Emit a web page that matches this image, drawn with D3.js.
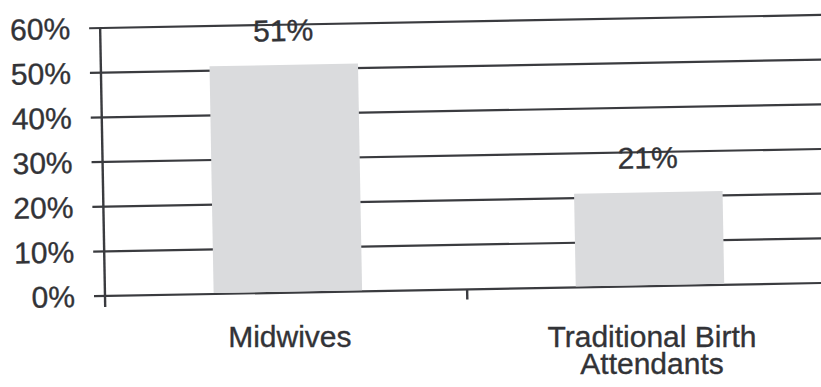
<!DOCTYPE html>
<html lang="en">
<head>
    <meta charset="utf-8">
    <title>Midwives vs Traditional Birth Attendants</title>
    <script src="https://d3js.org/d3.v7.min.js"></script>
    <style>
        body { margin: 0; background: #fff; }
        text { font-family: "Liberation Sans", Arial, sans-serif; fill: #323337; stroke: #323337; stroke-width: 0.35px; }
    </style>
</head>
<body>
<div id="chart"></div>
<script>

// Data
var categories = ["Midwives", "Traditional Birth Attendants"];
var labelLines = [["Midwives"], ["Traditional Birth", "Attendants"]];
var values = [51, 21];
var yTicks = [0, 10, 20, 30, 40, 50, 60];

var width = 821, height = 387;
var ink = "#3a3b3f";

// The scan is tilted a little, so the plot sits in a rotated group
var origin = [105, 296];   // where the axes meet
var tilt = -1.04;          // degrees

var svg = d3.select("#chart")
    .append("svg")
    .attr("width", width)
    .attr("height", height);

var x = d3.scaleBand()
    .domain(categories)
    .range([0, 728])
    .paddingInner(0.59)
    .paddingOuter(0.3);

var y = d3.scaleLinear()
    .domain([0, 60])
    .range([0, -268]);

var plot = svg.append("g")
    .attr("transform", `translate(${origin[0]},${origin[1]}) rotate(${tilt})`);

// Gridlines first, the bars cover them
plot.selectAll("line.grid")
    .data(yTicks)
    .enter()
    .append("line")
    .attr("class", "grid")
    .attr("x1", -11)
    .attr("x2", 740)
    .attr("y1", d => y(d))
    .attr("y2", d => y(d))
    .attr("stroke", ink)
    .attr("stroke-width", 2.2);

// Bars
plot.selectAll("rect.bar")
    .data(values)
    .enter()
    .append("rect")
    .attr("class", "bar")
    .attr("x", (d, i) => x(categories[i]))
    .attr("y", d => y(d))
    .attr("width", x.bandwidth())
    .attr("height", d => -y(d) - 1)
    .attr("fill", "#dadbdd");

// y tick labels
plot.selectAll("text.ytick")
    .data(yTicks)
    .enter()
    .append("text")
    .attr("class", "ytick")
    .attr("x", -30)
    .attr("y", d => y(d))
    .attr("dy", "0.35em")
    .attr("text-anchor", "end")
    .style("font-size", "30px")
    .text(d => d + "%");

// y axis line
plot.append("line")
    .attr("x1", 0).attr("x2", 0)
    .attr("y1", y(60)).attr("y2", 11)
    .attr("stroke", ink)
    .attr("stroke-width", 2.4);

// category tick between the bars
plot.append("line")
    .attr("x1", x.step()).attr("x2", x.step())
    .attr("y1", 0).attr("y2", 10)
    .attr("stroke", ink)
    .attr("stroke-width", 2.4);

// value labels
plot.selectAll("text.value")
    .data(values)
    .enter()
    .append("text")
    .attr("class", "value")
    .attr("x", (d, i) => x(categories[i]) + x.bandwidth() / 2)
    .attr("y", d => y(d) - 24)
    .attr("text-anchor", "middle")
    .style("font-size", "30px")
    .text(d => d + "%");

// category labels, placed level under the tilted band centres
var rad = tilt * Math.PI / 180;
var catLabels = svg.selectAll("text.cat")
    .data(categories)
    .enter()
    .append("text")
    .attr("class", "cat")
    .attr("x", c => origin[0] + (x(c) + x.bandwidth() / 2) * Math.cos(rad) + 2)
    .attr("y", 347)
    .attr("text-anchor", "middle")
    .style("font-size", "30px");

catLabels.selectAll("tspan")
    .data((c, i) => labelLines[i])
    .enter()
    .append("tspan")
    .attr("x", function() { return d3.select(this.parentNode).attr("x"); })
    .attr("dy", (d, i) => i === 0 ? 0 : 27)
    .text(d => d);

</script>
</body>
</html>
